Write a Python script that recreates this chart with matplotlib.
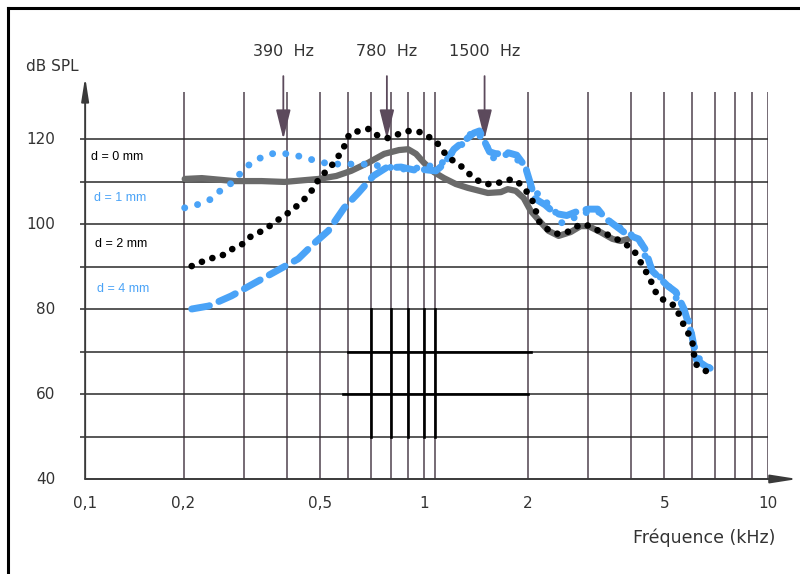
import numpy as np
import matplotlib.pyplot as plt
from matplotlib.lines import Line2D
from matplotlib.transforms import blended_transform_factory

# d = 0 mm (grey solid)
f_d0 = [0.2015, 0.226, 0.281, 0.337, 0.393, 0.493, 0.556, 0.614, 0.688, 0.766,
        0.846, 0.899, 0.948, 1.0, 1.069, 1.143, 1.238, 1.341, 1.533, 1.673,
        1.752, 1.848, 1.949, 2.042, 2.14, 2.3, 2.462, 2.668, 2.852, 3.008,
        3.258, 3.53, 3.724, 3.929]
db_d0 = [110.6, 110.8, 110.1, 110.1, 109.9, 110.6, 111.3, 112.5, 114.4, 116.5,
         117.4, 117.6, 116.5, 114.4, 112.2, 110.8, 109.4, 108.5, 107.3, 107.5,
         108.2, 107.8, 106.1, 103.1, 101.2, 98.4, 97.2, 98.1, 99.5, 99.5,
         98.1, 96.5, 96.0, 96.5]

# d = 1 mm (blue dotted)
f_d1 = [0.2015, 0.2228, 0.2445, 0.258, 0.2795, 0.3009, 0.326, 0.348, 0.37, 0.4035,
        0.431, 0.464, 0.513, 0.548, 0.602, 0.666, 0.761, 0.858, 0.967, 1.12,
        1.222, 1.306, 1.387, 1.483, 1.585, 1.706, 1.848, 1.976, 2.042, 2.183,
        2.381, 2.495, 2.722, 2.91, 3.194, 3.37, 3.981, 4.256, 4.459, 5.199,
        5.863, 6.184, 6.79]
db_d1 = [103.8, 104.7, 106.1, 108.2, 109.9, 113.2, 115.1, 116.2, 116.7, 116.5,
         116.0, 115.3, 114.4, 114.1, 114.1, 114.1, 113.6, 112.9, 113.2, 114.1,
         117.2, 119.1, 121.9, 120.2, 115.5, 116.5, 115.5, 113.2, 109.4, 106.1,
         103.8, 100.2, 101.4, 102.6, 103.1, 101.2, 97.6, 96.0, 90.8, 84.9,
         77.9, 69.0, 66.0]

# d = 2 mm (black dotted)
f_d2 = [0.2112, 0.226, 0.2428, 0.258, 0.274, 0.2969, 0.315, 0.339, 0.36, 0.38,
        0.406, 0.437, 0.461, 0.48, 0.496, 0.527, 0.556, 0.575, 0.594, 0.606,
        0.648, 0.693, 0.736, 0.787, 0.846, 0.905, 0.98, 1.083, 1.135, 1.182,
        1.263, 1.324, 1.396, 1.493, 1.617, 1.729, 1.848, 1.949, 2.015, 2.084,
        2.154, 2.258, 2.365, 2.495, 2.668, 2.852, 3.049, 3.216, 3.438, 3.724,
        3.929, 4.116, 4.488, 4.61, 4.767, 5.028, 5.376, 5.67, 6.022, 6.143, 6.656]
db_d2 = [90.1, 91.1, 92.0, 92.5, 93.9, 95.3, 97.2, 98.4, 99.8, 101.2,
         102.8, 104.9, 106.8, 108.7, 110.8, 112.9, 115.0, 117.2, 119.0, 121.2,
         121.9, 122.4, 120.7, 120.2, 121.2, 121.9, 121.6, 119.5, 117.2, 115.5,
         114.1, 112.5, 110.8, 109.4, 109.4, 110.4, 110.4, 108.5, 107.0, 104.9,
         100.7, 99.1, 97.9, 97.6, 98.4, 100.0, 99.5, 98.4, 97.4, 96.0,
         94.8, 93.2, 87.8, 85.9, 83.1, 81.9, 80.7, 76.5, 72.5, 67.1, 65.2]

# d = 4 mm (blue dashed)
f_d4 = [0.2112, 0.2366, 0.2758, 0.33, 0.385, 0.431, 0.48, 0.527, 0.586, 0.644,
        0.712, 0.775, 0.858, 0.961, 1.0, 1.083, 1.143, 1.222, 1.306, 1.396,
        1.45, 1.55, 1.62, 1.75, 1.86, 1.97, 2.03, 2.1, 2.25, 2.4,
        2.6, 2.8, 3.0, 3.2, 3.35, 3.9, 4.2, 4.4, 4.6, 5.1,
        5.4, 5.7, 6.0, 6.2, 6.6, 7.0]
db_d4 = [80.0, 80.7, 83.1, 86.6, 89.6, 91.8, 95.5, 98.4, 103.8, 107.3,
         111.3, 113.2, 113.4, 112.5, 112.8, 112.5, 114.1, 117.6, 119.5, 121.4,
         121.9, 117.0, 116.5, 116.8, 116.2, 113.5, 110.0, 106.0, 104.5, 102.5,
         102.0, 103.0, 103.5, 103.5, 101.5, 97.5, 96.5, 94.0, 89.0, 85.5,
         84.0, 80.0, 74.0, 68.0, 66.5, 65.6]

legend_labels = ["d = 0 mm", "d = 1 mm", "d = 2 mm", "d = 4 mm"]
marked_freqs = [0.39, 0.78, 1.5]
marked_labels = ["390  Hz", "780  Hz", "1500  Hz"]
xtick_vals = [0.1, 0.2, 0.5, 1, 2, 5, 10]
xtick_labels = ["0,1", "0,2", "0,5", "1", "2", "5", "10"]
ytick_vals = [120, 100, 80, 60, 40]

BLUE = "#4aa3f7"
GREY = "#6a6a6a"
GRID_V = "#4f434e"
GRID_H = "#2a2a2a"
TXT = "#333333"

fig = plt.figure(figsize=(8, 5.74), dpi=100)
ax = fig.add_axes([80 / 800, 95 / 574, 688 / 800, 387 / 574])
ax.set_xscale("log")
ax.set_xlim(0.1, 10)
ax.set_ylim(40, 131.06)
for s in ax.spines.values():
    s.set_visible(False)
ax.set_xticks([])
ax.set_yticks([])
ax.xaxis.set_minor_locator(plt.NullLocator())

# grid
vlines = [0.2, 0.3, 0.4, 0.5, 0.6, 0.7, 0.8, 0.9, 1.0, 1.08, 2, 3, 4, 5, 6, 7, 8, 9, 10]
for v in vlines:
    ax.plot([v, v], [40, 131], color=GRID_V, lw=1.1, zorder=1)
for h in range(50, 121, 10):
    ax.plot([0.1, 10], [h, h], color=GRID_H, lw=1.1, zorder=1)

# thick patch of lines in the middle
for v in [0.7, 0.8, 0.9, 1.0, 1.08]:
    ax.plot([v, v], [50, 80], color="black", lw=1.9, zorder=2)
ax.plot([0.6, 2.05], [70, 70], color="black", lw=1.9, zorder=2)
ax.plot([0.58, 2.0], [60, 60], color="black", lw=1.9, zorder=2)

# axes with arrows
arr = dict(color="#3a3a3a", lw=1.4, shrinkA=0, shrinkB=0)
ax.annotate("", xy=(0.1035, 134.6), xytext=(0.1035, 40),
            arrowprops=dict(arrowstyle="-|>,head_length=1.4,head_width=0.22", **arr),
            annotation_clip=False)
ax.annotate("", xy=(12.2, 40), xytext=(0.1035, 40),
            arrowprops=dict(arrowstyle="-|>,head_length=1.6,head_width=0.25", **arr),
            annotation_clip=False)

# curves
ax.plot(f_d0, db_d0, color=GREY, lw=4.5, solid_capstyle="round", zorder=3)
ax.plot(f_d4, db_d4, color=BLUE, lw=5, linestyle=(0, (2.6, 1.5)),
        dash_capstyle="round", zorder=4)
ax.plot(f_d1, db_d1, color=BLUE, lw=5, linestyle=(0, (0.01, 1.9)),
        dash_capstyle="round", zorder=5)
ax.plot(f_d2, db_d2, color="black", lw=4.8, linestyle=(0, (0.01, 1.65)),
        dash_capstyle="round", zorder=6)

# marked frequencies
for fq, lab in zip(marked_freqs, marked_labels):
    ax.annotate("", xy=(fq, 120), xytext=(fq, 134.8),
                arrowprops=dict(arrowstyle="-|>,head_length=1.8,head_width=0.45",
                                color="#5c4a5c", lw=1.3, shrinkA=0, shrinkB=0),
                annotation_clip=False)
    ax.text(fq, 140.5, lab, ha="center", va="center", fontsize=11.5,
            color=TXT, clip_on=False)

# tick labels
tr = blended_transform_factory(ax.transData, fig.transFigure)
for v, lab in zip(xtick_vals, xtick_labels):
    ax.text(v * 1.035 if v == 0.1 else v, (574 - 503) / 574, lab, transform=tr,
            ha="center", va="center", fontsize=11, color=TXT)
tr_y = blended_transform_factory(fig.transFigure, ax.transData)
for v in ytick_vals:
    ax.text(55 / 800, v, str(v), transform=tr_y, ha="right", va="center",
            fontsize=11, color=TXT)

fig.text(26 / 800, (574 - 66) / 574, "dB SPL", ha="left", va="center",
         fontsize=11, color=TXT)
fig.text(775 / 800, (574 - 538) / 574, "Fréquence (kHz)", ha="right",
         va="center", fontsize=12.5, color=TXT)

# series labels
lab_y = [157, 198, 244, 289]
lab_x = [91, 94, 95, 97]
lab_c = ["black", BLUE, "black", BLUE]
for lx, ly, lab, c in zip(lab_x, lab_y, legend_labels, lab_c):
    fig.text(lx / 800, (574 - ly) / 574, lab, ha="left", va="center",
             fontsize=9, color=c, family=["Liberation Sans", "DejaVu Sans"])

# frame of the scan
fig.add_artist(Line2D([8 / 800, 1.0], [1 - 8 / 574, 1 - 8 / 574], color="black", lw=2.2))
fig.add_artist(Line2D([8 / 800, 8 / 800], [0, 1 - 8 / 574], color="black", lw=2.2))

fig.savefig("out.png", dpi=100)
